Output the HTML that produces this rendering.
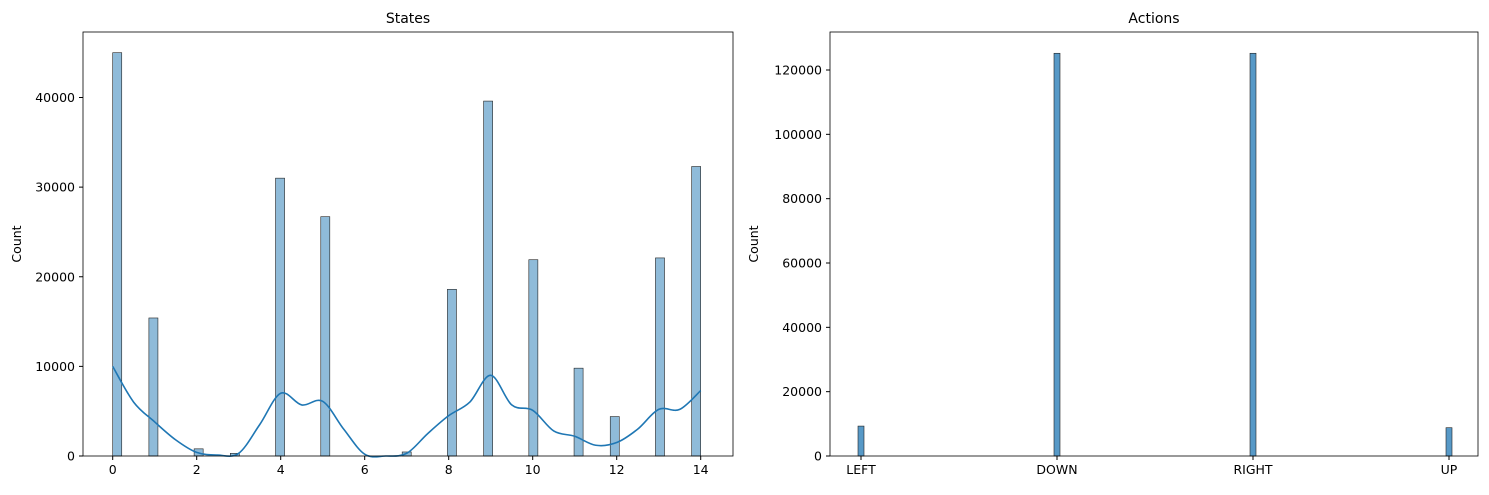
<!DOCTYPE html>
<html><head><meta charset="utf-8"><style>
body{margin:0;background:#fff;font-family:"Liberation Sans","DejaVu Sans",sans-serif}
svg text{font-family:"DejaVu Sans","Liberation Sans",sans-serif;font-size:12.5px;fill:#000}
</style></head><body>
<svg id="c" width="1489" height="490"></svg>
<script>
const stateCats=[0,1,2,3,4,5,7,8,9,10,11,12,13,14];
const stateCounts=[45000,15400,800,300,31000,26700,450,18600,39600,21900,9800,4400,22100,32300];
const kdeX=[0,0.5,1,1.5,2,2.5,3,3.5,4,4.5,5,5.5,6,6.5,7,7.5,8,8.5,9,9.5,10,10.5,11,11.5,12,12.5,13,13.5,14];
const kdeY=[10000,6000,3800,1800,400,100,300,3500,7000,5700,6100,3000,200,0,300,2500,4500,6000,9000,5700,5100,2800,2200,1200,1500,3000,5200,5200,7300];
const leftXTicks=[0,2,4,6,8,10,12,14];
const leftYTicks=[0,10000,20000,30000,40000];
const actionCats=["LEFT","DOWN","RIGHT","UP"];
const actionCounts=[9300,125200,125200,8800];
const rightYTicks=[0,20000,40000,60000,80000,100000,120000];

const svg=document.getElementById('c');const NS='http://www.w3.org/2000/svg';
function el(t,a,p){const e=document.createElementNS(NS,t);for(const k in a)e.setAttribute(k,a[k]);(p||svg).appendChild(e);return e;}
function txt(x,y,s,anchor,p){const e=el('text',{x:x,y:y,'text-anchor':anchor||'middle'},p);e.textContent=s;return e;}

// Left
const L={x0:83,x1:733,y0:32,y1:456};
const lx=v=>112.7+v*42, ly=v=>456-v*(456-97.5)/40000;
const gL=el('g',{});


const nb=65,bw=14/nb;
stateCats.forEach((c,i)=>{const b=Math.min(nb-1,Math.floor(c/bw+1e-9));const xa=lx(b*bw),xb=lx((b+1)*bw);
const r=el('rect',{x:xa,y:ly(stateCounts[i]),width:xb-xa,height:456-ly(stateCounts[i]),fill:'rgba(31,119,180,0.5)',stroke:'#222','stroke-width':0.6},gL);

});
let pts=kdeX.map((x,i)=>[lx(x),ly(kdeY[i])]);
let d='M'+pts[0][0]+','+pts[0][1];
for(let i=0;i<pts.length-1;i++){const p0=pts[Math.max(0,i-1)],p1=pts[i],p2=pts[i+1],p3=pts[Math.min(pts.length-1,i+2)];
d+=`C${p1[0]+(p2[0]-p0[0])/6},${p1[1]+(p2[1]-p0[1])/6} ${p2[0]-(p3[0]-p1[0])/6},${p2[1]-(p3[1]-p1[1])/6} ${p2[0]},${p2[1]}`;}
const kde=el('path',{d:d,fill:'none',stroke:'#1f77b4','stroke-width':1.6},gL);


el('rect',{x:L.x0,y:L.y0,width:L.x1-L.x0,height:L.y1-L.y0,fill:'none',stroke:'#000','stroke-width':0.8},gL);
leftXTicks.forEach(t=>{el('line',{x1:lx(t),x2:lx(t),y1:456,y2:460,stroke:'#000'},gL);txt(lx(t),474,String(t),'middle',gL);});
leftYTicks.forEach(t=>{el('line',{x1:79,x2:83,y1:ly(t),y2:ly(t),stroke:'#000'},gL);txt(75,ly(t)+4.5,String(t),'end',gL);});
const t1=txt(408,23,'States','middle',gL);t1.setAttribute('style','font-size:14px');


const yl=el('text',{x:0,y:0,transform:'translate(21,244) rotate(-90)','text-anchor':'middle'},gL);yl.textContent='Count';



// Right
const R={x0:830,x1:1478,y0:32,y1:456};
const rx=i=>861+i*196, ry=v=>456-v*(456-70)/120000;
const gR=el('g',{});


actionCats.forEach((c,i)=>{const w=6;const r=el('rect',{x:rx(i)-w/2,y:ry(actionCounts[i]),width:w,height:456-ry(actionCounts[i]),fill:'rgba(31,119,180,0.75)',stroke:'#222','stroke-width':0.6},gR);

});
el('rect',{x:R.x0,y:R.y0,width:R.x1-R.x0,height:R.y1-R.y0,fill:'none',stroke:'#000','stroke-width':0.8},gR);
actionCats.forEach((c,i)=>{el('line',{x1:rx(i),x2:rx(i),y1:456,y2:460,stroke:'#000'},gR);txt(rx(i),474,c,'middle',gR);});
rightYTicks.forEach(t=>{el('line',{x1:826,x2:830,y1:ry(t),y2:ry(t),stroke:'#000'},gR);txt(822,ry(t)+4.5,String(t),'end',gR);});
const t2=txt(1154,23,'Actions','middle',gR);t2.setAttribute('style','font-size:14px');


const yl2=el('text',{x:0,y:0,transform:'translate(758,244) rotate(-90)','text-anchor':'middle'},gR);yl2.textContent='Count';


</script>
</body></html>
